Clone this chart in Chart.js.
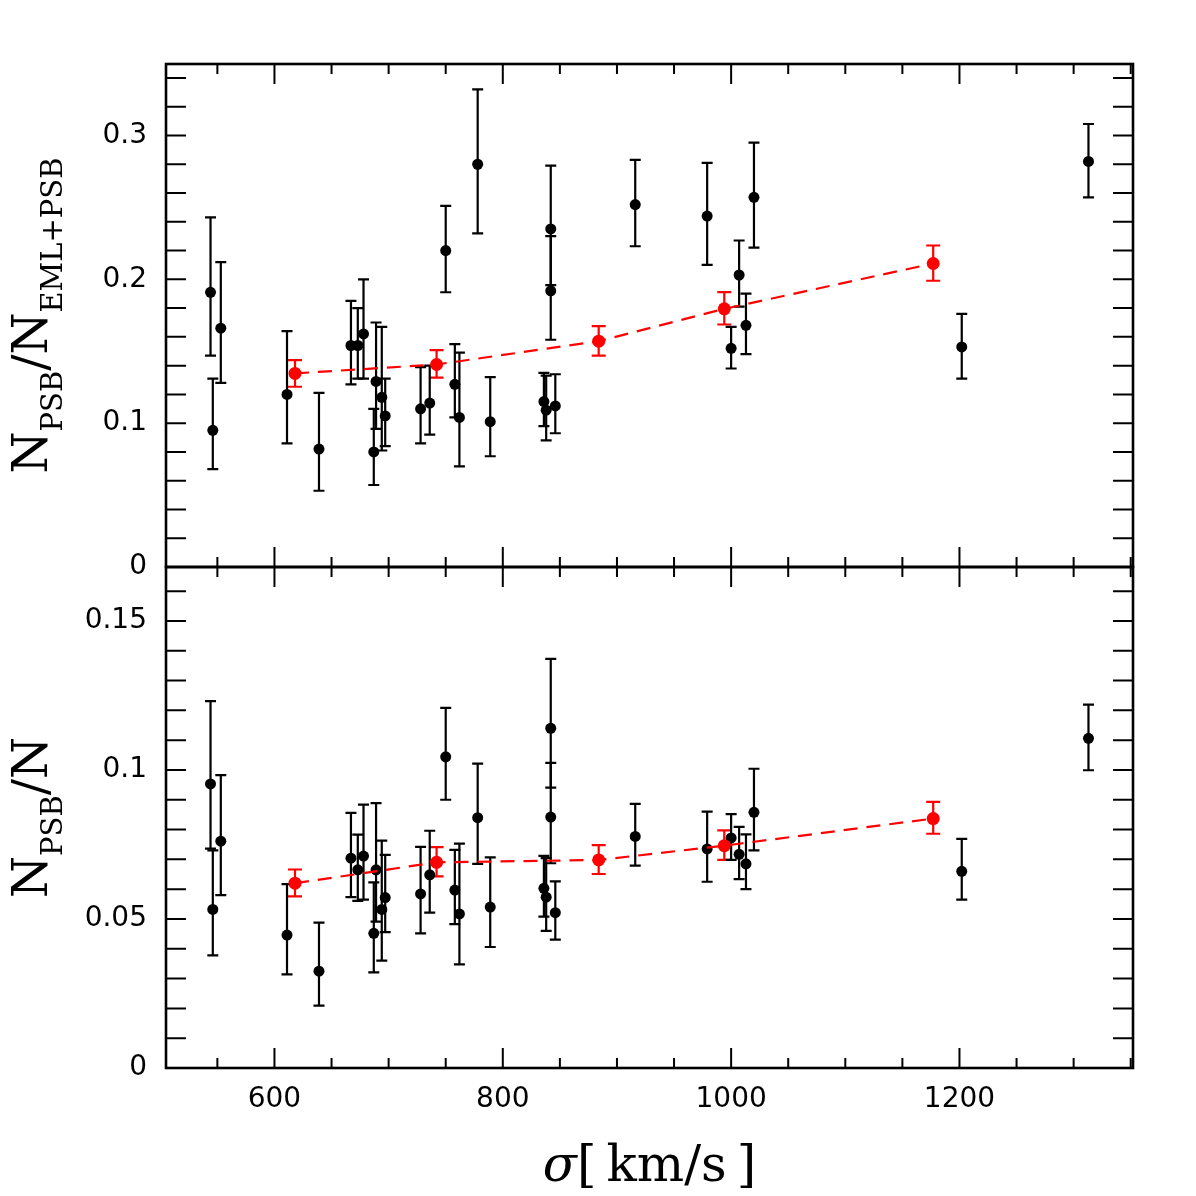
<!DOCTYPE html>
<html>
<head>
<meta charset="utf-8">
<script src="https://cdn.jsdelivr.net/npm/chart.js@4.4.1/dist/chart.umd.min.js"></script>
<style>
  html, body { margin: 0; padding: 0; background: #fff; }
  #wrap { position: relative; width: 1196px; height: 1196px; }
  #wrap canvas { position: absolute; left: 0; top: 0; }
</style>
</head>
<body>
<div id="wrap">
  <canvas id="topChart" width="1196" height="1196"></canvas>
  <canvas id="bottomChart" width="1196" height="1196"></canvas>
</div>
<script>
// velocity dispersion of each cluster (km/s)
const sigma = [544, 546, 553, 611, 639, 667, 673, 678, 687, 689, 694, 697, 728, 736, 750, 758,
               762, 778, 789, 836, 838, 842, 842, 846, 916, 979, 1000, 1007, 1013, 1020, 1202, 1313];

// N_PSB / N_EML+PSB per cluster, with lower / upper error bar ends
const fracEml = [0.191, 0.095, 0.166, 0.120, 0.082, 0.154, 0.154, 0.162, 0.080, 0.129, 0.118, 0.105, 0.110, 0.114, 0.220, 0.127,
                 0.104, 0.280, 0.101, 0.115, 0.109, 0.235, 0.192, 0.112, 0.252, 0.244, 0.152, 0.203, 0.168, 0.257, 0.153, 0.282];
const fracEmlLo = [0.147, 0.068, 0.128, 0.086, 0.053, 0.127, 0.131, 0.131, 0.057, 0.096, 0.081, 0.084, 0.086, 0.092, 0.191, 0.104,
                   0.070, 0.232, 0.077, 0.098, 0.088, 0.196, 0.158, 0.093, 0.223, 0.210, 0.138, 0.181, 0.148, 0.222, 0.131, 0.257];
const fracEmlHi = [0.243, 0.131, 0.212, 0.164, 0.121, 0.185, 0.180, 0.200, 0.110, 0.170, 0.167, 0.131, 0.139, 0.140, 0.251, 0.155,
                   0.149, 0.332, 0.132, 0.135, 0.133, 0.279, 0.230, 0.134, 0.283, 0.281, 0.167, 0.227, 0.190, 0.295, 0.176, 0.308];

// N_PSB / N per cluster
const fracAll = [0.0953, 0.0532, 0.0761, 0.0446, 0.0325, 0.0704, 0.0665, 0.0711, 0.0452, 0.0665, 0.0532, 0.0572, 0.0584, 0.0648, 0.1044, 0.0597,
                 0.0517, 0.0840, 0.0540, 0.0603, 0.0573, 0.1140, 0.0842, 0.0521, 0.0777, 0.0735, 0.0772, 0.0717, 0.0685, 0.0858, 0.0660, 0.1106];
const fracAllLo = [0.0736, 0.0378, 0.0580, 0.0314, 0.0209, 0.0573, 0.0561, 0.0565, 0.0321, 0.0491, 0.0360, 0.0456, 0.0452, 0.0521, 0.0900, 0.0483,
                   0.0348, 0.0685, 0.0406, 0.0508, 0.0460, 0.0941, 0.0687, 0.0431, 0.0679, 0.0625, 0.0698, 0.0634, 0.0600, 0.0730, 0.0565, 0.0999];
const fracAllHi = [0.1231, 0.0730, 0.0983, 0.0617, 0.0488, 0.0856, 0.0783, 0.0884, 0.0623, 0.0889, 0.0763, 0.0715, 0.0742, 0.0796, 0.1208, 0.0732,
                   0.0753, 0.1021, 0.0707, 0.0712, 0.0704, 0.1373, 0.1024, 0.0626, 0.0886, 0.0860, 0.0852, 0.0809, 0.0784, 0.1004, 0.0769, 0.1219];

// binned values (red)
const binSigma = [618, 742, 884, 994, 1177];
const binEml = [0.1346, 0.1408, 0.1570, 0.1795, 0.2110];
const binEmlLo = [0.1253, 0.1316, 0.1469, 0.1686, 0.1990];
const binEmlHi = [0.1438, 0.1508, 0.1675, 0.1911, 0.2235];
const binAll = [0.0620, 0.0690, 0.0698, 0.0746, 0.0837];
const binAllLo = [0.0576, 0.0643, 0.0651, 0.0698, 0.0786];
const binAllHi = [0.0666, 0.0741, 0.0748, 0.0797, 0.0893];

// tick values
const sigmaMajor = [600, 800, 1000, 1200];
const sigmaMinor = [550, 650, 700, 750, 850, 900, 950, 1050, 1100, 1150, 1250, 1300, 1350];
const emlMajor = [0, 0.1, 0.2, 0.3];
const emlMinor = [0.02, 0.04, 0.06, 0.08, 0.12, 0.14, 0.16, 0.18, 0.22, 0.24, 0.26, 0.28, 0.32, 0.34];
const allMajor = [0, 0.05, 0.1, 0.15];
const allMinor = [0.01, 0.02, 0.03, 0.04, 0.06, 0.07, 0.08, 0.09, 0.11, 0.12, 0.13, 0.14, 0.16];

// plot box (pixels)
const BOX = { left: 166, right: 1133, top: 64, mid: 567, bottom: 1068 };
const tickFont = { family: 'DejaVu Sans', size: 28 };

function toPoints(xs, ys) {
    return xs.map((x, i) => ({ x: x, y: ys[i] }));
}

function fmtTick(v) {
    return String(Math.round(v * 100) / 100);
}

// vertical error bars with caps, drawn under the markers
const errorBars = {
    id: 'errorBars',
    beforeDatasetsDraw(chart) {
        const ctx = chart.ctx;
        const xs = chart.scales.x, ys = chart.scales.y;
        chart.data.datasets.forEach(ds => {
            if (!ds.errLo) return;
            ctx.save();
            ctx.strokeStyle = ds.barColor;
            ctx.lineWidth = 2.2;
            ds.data.forEach((p, i) => {
                const x = xs.getPixelForValue(p.x);
                const y1 = ys.getPixelForValue(ds.errLo[i]);
                const y2 = ys.getPixelForValue(ds.errHi[i]);
                ctx.beginPath();
                ctx.moveTo(x, y1); ctx.lineTo(x, y2);
                ctx.moveTo(x - ds.capHalf, y1); ctx.lineTo(x + ds.capHalf, y1);
                ctx.moveTo(x - ds.capHalf, y2); ctx.lineTo(x + ds.capHalf, y2);
                ctx.stroke();
            });
            ctx.restore();
        });
    }
};

// box and inward ticks on all four sides, plus axis titles
const frame = {
    id: 'frame',
    afterDraw(chart, args, opts) {
        const ctx = chart.ctx;
        const a = chart.chartArea;
        const xs = chart.scales.x, ys = chart.scales.y;
        ctx.save();
        ctx.strokeStyle = '#000';
        ctx.lineWidth = 2;
        ctx.beginPath();
        const yTick = (v, len) => {
            const p = ys.getPixelForValue(v);
            ctx.moveTo(a.left, p); ctx.lineTo(a.left + len, p);
            ctx.moveTo(a.right, p); ctx.lineTo(a.right - len, p);
        };
        const xTick = (v, len) => {
            const p = xs.getPixelForValue(v);
            ctx.moveTo(p, a.top); ctx.lineTo(p, a.top + len);
            ctx.moveTo(p, a.bottom); ctx.lineTo(p, a.bottom - len);
        };
        opts.yMajor.forEach(v => yTick(v, 20));
        opts.yMinor.forEach(v => yTick(v, 20));
        sigmaMajor.forEach(v => xTick(v, 20));
        sigmaMinor.forEach(v => xTick(v, 10));
        ctx.stroke();
        ctx.lineWidth = 2.6;
        ctx.strokeRect(a.left, a.top, a.right - a.left, a.bottom - a.top);

        // rotated y title with subscripts
        ctx.fillStyle = '#000';
        ctx.textBaseline = 'alphabetic';
        ctx.textAlign = 'left';
        const mainFont = '48px "DejaVu Serif"';
        const subFont = '29px "DejaVu Serif"';
        let total = 0;
        opts.title.forEach(p => {
            ctx.font = p.sub ? subFont : mainFont;
            total += ctx.measureText(p.text).width;
        });
        ctx.translate(47, (a.top + a.bottom) / 2);
        ctx.rotate(-Math.PI / 2);
        let x = -total / 2;
        opts.title.forEach(p => {
            ctx.font = p.sub ? subFont : mainFont;
            ctx.fillText(p.text, x, p.sub ? 15 : 0);
            x += ctx.measureText(p.text).width;
        });
        ctx.restore();

        if (opts.xTitle) {
            // sigma in italics, the unit upright
            ctx.save();
            ctx.fillStyle = '#000';
            ctx.textBaseline = 'alphabetic';
            ctx.textAlign = 'left';
            const symFont = 'italic 50px "DejaVu Serif"';
            const unitFont = '50px "DejaVu Serif"';
            ctx.font = symFont;
            const w1 = ctx.measureText(opts.xTitle[0]).width;
            ctx.font = unitFont;
            const w2 = ctx.measureText(opts.xTitle[1]).width;
            const x0 = (a.left + a.right) / 2 - (w1 + w2) / 2;
            ctx.font = symFont;
            ctx.fillText(opts.xTitle[0], x0, 1181);
            ctx.font = unitFont;
            ctx.fillText(opts.xTitle[1], x0 + w1, 1181);
            ctx.restore();
        }
    }
};

function panelDatasets(binY, binLo, binHi, y, lo, hi) {
    return [
        {
            label: 'binned',
            data: toPoints(binSigma, binY),
            errLo: binLo, errHi: binHi, barColor: '#ff0000', capHalf: 7,
            showLine: true,
            borderColor: '#ff0000',
            borderWidth: 2.2,
            borderDash: [14, 9],
            pointRadius: 6.5,
            pointBackgroundColor: '#ff0000',
            pointBorderWidth: 0
        },
        {
            label: 'clusters',
            data: toPoints(sigma, y),
            errLo: lo, errHi: hi, barColor: '#000000', capHalf: 5.5,
            showLine: false,
            pointRadius: 5.5,
            pointBackgroundColor: '#000000',
            pointBorderWidth: 0
        }
    ];
}

function yAxis(max, step) {
    return {
        type: 'linear',
        min: 0,
        max: max,
        grid: { display: false, drawTicks: false },
        border: { display: false },
        ticks: { stepSize: step, includeBounds: false, padding: 19, color: '#000', font: tickFont, callback: fmtTick },
        afterFit: s => { s.width = BOX.left; }
    };
}

// upper panel
new Chart(document.getElementById('topChart'), {
    type: 'scatter',
    data: { datasets: panelDatasets(binEml, binEmlLo, binEmlHi, fracEml, fracEmlLo, fracEmlHi) },
    options: {
        responsive: false,
        animation: false,
        events: [],
        layout: { padding: { left: 0, right: 1196 - BOX.right, top: BOX.top, bottom: 1196 - BOX.mid } },
        scales: {
            x: { type: 'linear', min: 505, max: 1352, display: false },
            y: yAxis(0.3497, 0.1)
        },
        plugins: {
            legend: { display: false },
            tooltip: { enabled: false },
            frame: {
                yMajor: emlMajor, yMinor: emlMinor,
                title: [{ text: 'N' }, { text: 'PSB', sub: true }, { text: '/' }, { text: 'N' }, { text: 'EML+PSB', sub: true }]
            }
        }
    },
    plugins: [errorBars, frame]
});

// lower panel
new Chart(document.getElementById('bottomChart'), {
    type: 'scatter',
    data: { datasets: panelDatasets(binAll, binAllLo, binAllHi, fracAll, fracAllLo, fracAllHi) },
    options: {
        responsive: false,
        animation: false,
        events: [],
        layout: { padding: { left: 0, right: 1196 - BOX.right, top: BOX.mid, bottom: 0 } },
        scales: {
            x: {
                type: 'linear',
                min: 505,
                max: 1352,
                grid: { display: false, drawTicks: false },
                border: { display: false },
                ticks: { stepSize: 200, includeBounds: false, padding: 15, maxRotation: 0, autoSkip: false,
                         color: '#000', font: tickFont, callback: v => String(v) },
                afterFit: s => { s.height = 1196 - BOX.bottom; }
            },
            y: yAxis(0.1681, 0.05)
        },
        plugins: {
            legend: { display: false },
            tooltip: { enabled: false },
            frame: {
                yMajor: allMajor, yMinor: allMinor,
                title: [{ text: 'N' }, { text: 'PSB', sub: true }, { text: '/' }, { text: 'N' }],
                xTitle: ['σ', '[\u2009km/s\u2009]']
            }
        }
    },
    plugins: [errorBars, frame]
});
</script>
</body>
</html>
